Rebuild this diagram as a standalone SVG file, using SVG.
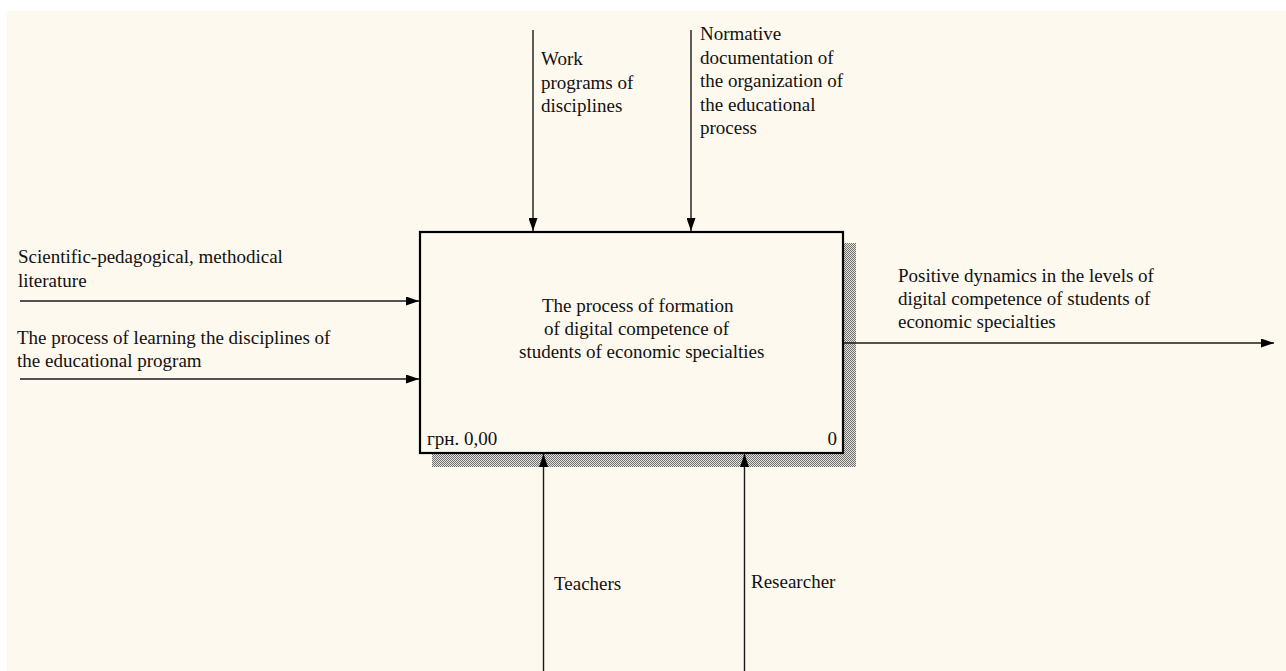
<svg xmlns="http://www.w3.org/2000/svg" width="1286" height="671" viewBox="0 0 1286 671">
<style>
text{font-family:"Liberation Serif","Times New Roman",serif;font-size:19px;fill:#111}
.c{stroke:#1a1a1a;stroke-width:1.4;fill:none}
.box{fill:#FEF9EF;stroke:#000;stroke-width:2.2}
</style>
<defs>
<pattern id="chk" width="2" height="2" patternUnits="userSpaceOnUse">
<rect width="2" height="2" fill="#e6e3dc"/>
<rect width="1" height="1" fill="#707070"/>
<rect x="1" y="1" width="1" height="1" fill="#707070"/>
</pattern>
<marker id="ah" viewBox="0 0 13 9" refX="13" refY="4.5" markerWidth="13" markerHeight="9" markerUnits="userSpaceOnUse" orient="auto">
<path d="M0,0 L13,4.5 L0,9 Z" fill="#000"/>
</marker>
</defs>
<rect width="1286" height="671" fill="#ffffff"/>
<rect x="7" y="11" width="1279" height="660" fill="#FEF9EF"/>
<g id="node-A0">
<rect x="843" y="243" width="13" height="224" fill="url(#chk)"/>
<rect x="432" y="454" width="424" height="13" fill="url(#chk)"/>
<rect class="box" x="420" y="232" width="423" height="221"/>
<text x="542" y="312">The process of formation</text>
<text x="544" y="335">of digital competence of</text>
<text x="519" y="358">students of economic specialties</text>
<text x="427" y="445">грн. 0,00</text>
<text x="837" y="445" text-anchor="end">0</text>
</g>
<g id="connectors">
<line class="c" x1="533" y1="30" x2="533" y2="231" marker-end="url(#ah)"/>
<line class="c" x1="691" y1="30" x2="691" y2="231" marker-end="url(#ah)"/>
<line class="c" x1="20" y1="301" x2="419" y2="301" marker-end="url(#ah)"/>
<line class="c" x1="20" y1="379" x2="419" y2="379" marker-end="url(#ah)"/>
<line class="c" x1="844" y1="343" x2="1274" y2="343" marker-end="url(#ah)"/>
<line class="c" x1="543.5" y1="671" x2="543.5" y2="454" marker-end="url(#ah)"/>
<line class="c" x1="744.5" y1="671" x2="744.5" y2="454" marker-end="url(#ah)"/>
</g>
<g id="labels">
<text x="541" y="65">Work</text>
<text x="541" y="89">programs of</text>
<text x="541" y="112">disciplines</text>
<text x="700" y="40">Normative</text>
<text x="700" y="64">documentation of</text>
<text x="700" y="87">the organization of</text>
<text x="700" y="111">the educational</text>
<text x="700" y="134">process</text>
<text x="18" y="263">Scientific-pedagogical, methodical</text>
<text x="18" y="287">literature</text>
<text x="17" y="344">The process of learning the disciplines of</text>
<text x="17" y="367">the educational program</text>
<text x="898" y="282">Positive dynamics in the levels of</text>
<text x="898" y="305">digital competence of students of</text>
<text x="898" y="328">economic specialties</text>
<text x="554" y="590">Teachers</text>
<text x="751" y="588">Researcher</text>
</g>
</svg>
